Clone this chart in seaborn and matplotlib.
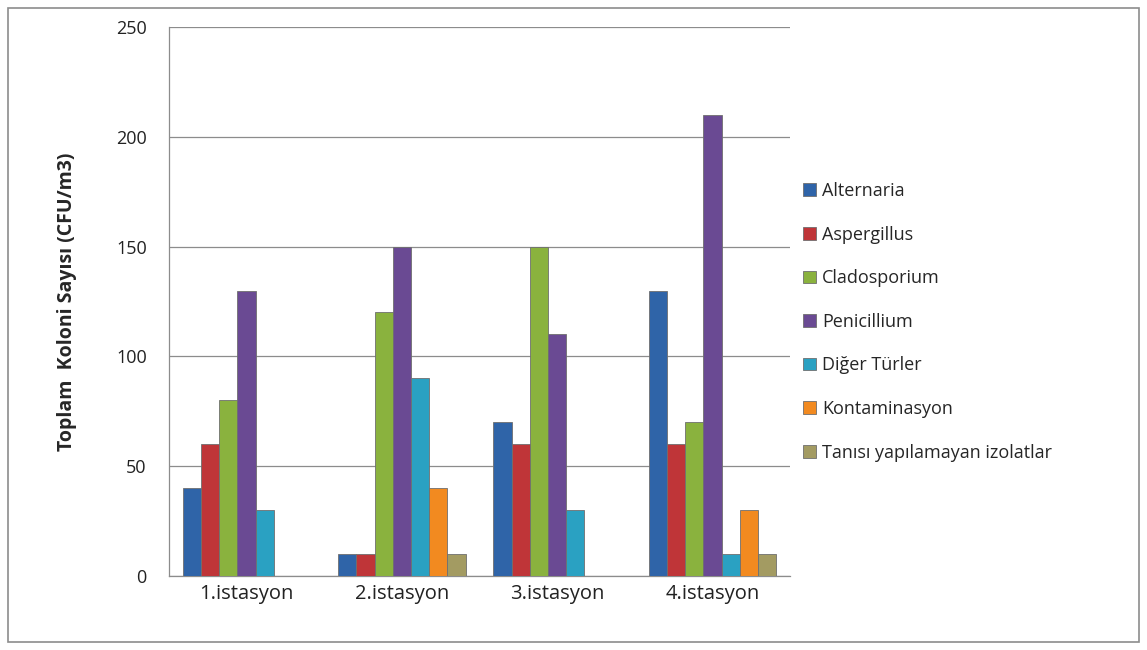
import pandas as pd
import seaborn as sns
import matplotlib.pyplot as plt
from matplotlib.patches import Rectangle

# data
stations = ['1.istasyon', '2.istasyon', '3.istasyon', '4.istasyon']
species = ['Alternaria', 'Aspergillus', 'Cladosporium', 'Penicillium',
           'Diğer Türler', 'Kontaminasyon', 'Tanısı yapılamayan izolatlar']
alternaria = [40, 10, 70, 130]
aspergillus = [60, 10, 60, 60]
cladosporium = [80, 120, 150, 70]
penicillium = [130, 150, 110, 210]
diger = [30, 90, 30, 10]
kontaminasyon = [0, 40, 0, 30]
tanisi = [0, 10, 0, 10]

colors = ['#2f64a8', '#bf3538', '#8ab23e', '#6a4a93', '#2aa1c2', '#f28a20', '#a39b62']

series = [alternaria, aspergillus, cladosporium, penicillium, diger, kontaminasyon, tanisi]
rows = []
for name, vals in zip(species, series):
    for st, v in zip(stations, vals):
        rows.append({'İstasyon': st, 'Tür': name, 'Değer': v})
df = pd.DataFrame(rows)

sns.set_style('white')
plt.rcParams['font.family'] = ['Open Sans', 'DejaVu Sans']

fig = plt.figure(figsize=(11.47, 6.5), dpi=100)
ax = fig.add_axes([0.1473, 0.1138, 0.5415, 0.8447])

sns.barplot(data=df, x='İstasyon', y='Değer', hue='Tür', hue_order=species,
            palette=colors, saturation=1, width=0.82, edgecolor='#6f6f6f',
            linewidth=0.6, ax=ax, zorder=3)

ax.set_ylim(0, 250)
ax.set_yticks(range(0, 251, 50))
ax.set_xlim(-0.5, 3.5)
ax.yaxis.grid(True, color='#8c8c8c', linewidth=0.9, zorder=0)
ax.set_axisbelow(True)
for s in ['top', 'right']:
    ax.spines[s].set_visible(False)
for s in ['left', 'bottom']:
    ax.spines[s].set_color('#8c8c8c')
    ax.spines[s].set_linewidth(0.9)
ax.tick_params(axis='y', length=0, pad=16, labelsize=13, labelcolor='#222222')
ax.tick_params(axis='x', length=0, pad=6, labelsize=14.5, labelcolor='#222222')
ax.set_xlabel('')
ax.set_ylabel('Toplam  Koloni Sayısı (CFU/m3)', fontsize=14, fontweight='bold',
              labelpad=28)

ax.legend(loc='center left', bbox_to_anchor=(0.995, 0.463), frameon=False,
          fontsize=13, labelspacing=1.42, handlelength=0.7, handleheight=0.7,
          handletextpad=0.35)

fig.patches.append(Rectangle((0.007, 0.013), 0.986, 0.975, transform=fig.transFigure,
                             fill=False, edgecolor='#8c8c8c', linewidth=1.2))

fig.savefig('out.png', dpi=100)
